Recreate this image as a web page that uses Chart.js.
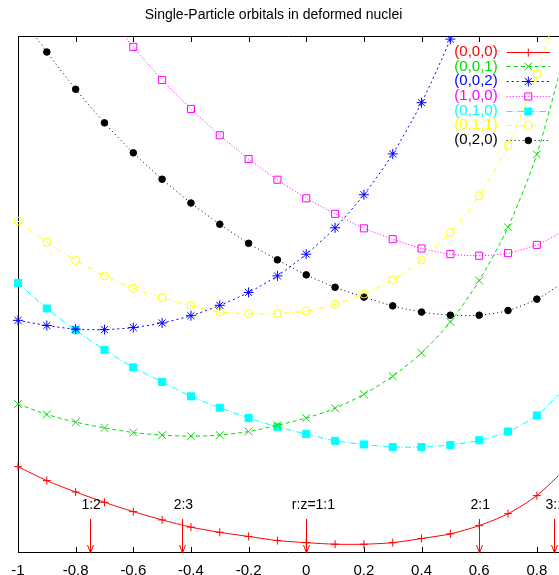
<!DOCTYPE html>
<html><head><meta charset="utf-8">
<script src="https://cdn.jsdelivr.net/npm/chart.js@4/dist/chart.umd.min.js"></script>
<style>html,body{margin:0;padding:0;background:#fff;overflow:hidden}canvas{display:block}</style>
</head><body><canvas id="c" width="559" height="575"></canvas>
<script>
// deformation parameter (x axis)
const deformation = [-1,-0.9,-0.8,-0.7,-0.6,-0.5,-0.4,-0.3,-0.2,-0.1,0,0.1,0.2,0.3,0.4,0.5,0.6,0.7,0.8,0.9];
// orbital energies (arbitrary units)
const e000 = [1.67,1.40,1.18,0.98,0.80,0.64,0.50,0.40,0.32,0.24,0.20,0.17,0.17,0.20,0.28,0.37,0.53,0.76,1.11,1.63];
const e001 = [2.88,2.68,2.53,2.42,2.33,2.28,2.26,2.28,2.35,2.47,2.61,2.80,3.07,3.42,3.87,4.47,5.27,6.30,7.71,9.73];
const e002 = [4.50,4.40,4.33,4.32,4.36,4.45,4.59,4.79,5.04,5.36,5.78,6.29,6.93,7.72,8.71,9.94,11.43,null,null,null];
const e100 = [null,null,null,10.50,9.79,9.15,8.59,8.08,7.62,7.22,6.86,6.56,6.28,6.07,5.89,5.78,5.75,5.80,5.96,6.25];
const e010 = [5.22,4.73,4.31,3.93,3.59,3.31,3.03,2.81,2.61,2.44,2.30,2.17,2.10,2.05,2.05,2.09,2.18,2.35,2.66,3.21];
const e011 = [6.42,6.01,5.66,5.36,5.12,4.94,4.78,4.66,4.63,4.63,4.68,4.81,5.01,5.28,5.67,6.20,6.91,7.88,9.26,11.10];
const e020 = [10.46,9.69,8.97,8.32,7.74,7.23,6.77,6.36,5.99,5.67,5.38,5.14,4.95,4.78,4.66,4.60,4.60,4.69,4.91,5.26];
const seriesLabels = ["(0,0,0)","(0,0,1)","(0,0,2)","(1,0,0)","(0,1,0)","(0,1,1)","(0,2,0)"];
const xTicks = [-1,-0.8,-0.6,-0.4,-0.2,0,0.2,0.4,0.6,0.8];
const arrowPositions = [-0.75,-0.43,0,0.6,0.86];
const arrowLabelPositions = [-0.78,-0.46,-0.05,0.57,0.83];
const arrowLabels = ["1:2","2:3","r:z=1:1","2:1","3:1"];
const titleText = "Single-Particle orbitals in deformed nuclei";

const FONT = "'Liberation Sans', Arial, sans-serif";
const series = [e000,e001,e002,e100,e010,e011,e020];
const styles = [
  {c:'#ff0000', dash:[], ps:'cross', r:4, fill:false},
  {c:'#00e000', dash:[4,3], ps:'crossRot', r:5.5, fill:false},
  {c:'#0000ff', dash:[2,3], ps:'star', r:5, fill:false},
  {c:'#ff00ff', dash:[1,2], ps:'rect', r:5, fill:false},
  {c:'#00ffff', dash:[6,2,1,2], ps:'rect', r:5, fill:true},
  {c:'#ffff00', dash:[5,3,1,3], ps:'circle', r:4, fill:false},
  {c:'#000000', dash:[1,3], ps:'circle', r:3.3, fill:true}
];
const datasets = series.map((arr,i)=>({
  label: seriesLabels[i],
  data: deformation.map((x,k)=>({x:x, y:arr[k]})),
  borderColor: styles[i].c,
  backgroundColor: styles[i].fill ? styles[i].c : 'rgba(0,0,0,0)',
  borderWidth: 1,
  borderDash: styles[i].dash,
  pointStyle: styles[i].ps,
  pointRadius: styles[i].r,
  pointBorderWidth: 1,
  pointBorderColor: styles[i].c,
  pointBackgroundColor: styles[i].fill ? styles[i].c : 'rgba(0,0,0,0)',
  tension: 0.25,
  spanGaps: false,
  fill: false,
  clip: {left: 8, top: 0, right: 6, bottom: 8}
}));

const decor = {
  id: 'decor',
  beforeDatasetsDraw(chart){
    const ctx = chart.ctx, a = chart.chartArea, xs = chart.scales.x;
    const R = chart.width;
    ctx.save();
    ctx.strokeStyle = '#000'; ctx.lineWidth = 1;
    ctx.beginPath();
    ctx.moveTo(Math.round(a.left)+0.5, a.top); ctx.lineTo(Math.round(a.left)+0.5, a.bottom);
    ctx.moveTo(a.left, Math.round(a.top)+0.5); ctx.lineTo(R, Math.round(a.top)+0.5);
    ctx.moveTo(a.left, Math.round(a.bottom)-0.5); ctx.lineTo(R, Math.round(a.bottom)-0.5);
    xTicks.forEach(v=>{
      const px = Math.round(xs.getPixelForValue(v))+0.5;
      ctx.moveTo(px, a.bottom); ctx.lineTo(px, a.bottom-6);
      ctx.moveTo(px, a.top); ctx.lineTo(px, a.top+6);
    });
    ctx.stroke();
    ctx.restore();
  },
  afterDatasetsDraw(chart){
    const ctx = chart.ctx, a = chart.chartArea, xs = chart.scales.x;
    ctx.save();
    // arrows
    arrowPositions.forEach((v,i)=>{
      const px = Math.round(xs.getPixelForValue(v))+0.5;
      ctx.strokeStyle = '#ff0000'; ctx.lineWidth = 1; ctx.setLineDash([]);
      ctx.beginPath();
      ctx.moveTo(px, a.bottom-34); ctx.lineTo(px, a.bottom);
      ctx.moveTo(px-3, a.bottom-8); ctx.lineTo(px, a.bottom); ctx.lineTo(px+3, a.bottom-8);
      ctx.stroke();
      ctx.fillStyle = '#000'; ctx.font = '14px ' + FONT;
      ctx.textAlign = 'left'; ctx.textBaseline = 'middle';
      ctx.fillText(arrowLabels[i], xs.getPixelForValue(arrowLabelPositions[i]), a.bottom-48);
    });
    // legend
    chart.data.datasets.forEach((ds,i)=>{
      const y = 51.7 + i*14.7;
      ctx.font = '15px ' + FONT;
      ctx.textAlign = 'right'; ctx.textBaseline = 'middle';
      ctx.fillStyle = ds.borderColor;
      ctx.fillText(ds.label, 497.7, y);
      ctx.strokeStyle = ds.borderColor; ctx.lineWidth = 1;
      ctx.setLineDash(ds.borderDash);
      ctx.beginPath(); ctx.moveTo(506.7, Math.round(y)+0.5); ctx.lineTo(550, Math.round(y)+0.5); ctx.stroke();
      ctx.setLineDash([]);
      ctx.fillStyle = ds.pointBackgroundColor;
      ctx.strokeStyle = ds.borderColor;
      Chart.helpers.drawPoint(ctx, {pointStyle: ds.pointStyle, radius: ds.pointRadius, rotation: 0, borderWidth: 1}, 528.3, Math.round(y)+0.5);
    });
    ctx.restore();
  },
  afterDraw(chart){
    const ctx = chart.ctx;
    ctx.save();
    ctx.fillStyle = '#000'; ctx.font = '14px ' + FONT;
    ctx.textAlign = 'center'; ctx.textBaseline = 'middle';
    ctx.fillText(titleText, 273.5, 15);
    ctx.restore();
  }
};

new Chart(document.getElementById('c'), {
  type: 'line',
  data: { datasets },
  options: {
    responsive: false, animation: false, devicePixelRatio: 1,
    layout: { padding: { left: 18, top: 36, right: 0, bottom: 0 } },
    plugins: { legend: {display:false}, title: {display:false}, tooltip: {enabled:false} },
    scales: {
      x: {
        type: 'linear', min: -1, max: 0.8543,
        afterBuildTicks: s => { s.ticks = xTicks.map(v=>({value:v})); },
        afterFit: s => { s.paddingLeft = 0; s.paddingRight = 0; s.height = 22; },
        ticks: { font: {size: 15, family: FONT}, color: '#000', padding: 9, maxRotation: 0, autoSkip: false,
          callback: v => String(Math.round(v*10)/10) },
        grid: { display: false, drawTicks: false },
        border: { display: false }
      },
      y: { type: 'linear', min: 0, max: 10, display: false }
    }
  },
  plugins: [decor]
});
</script>
</body></html>
